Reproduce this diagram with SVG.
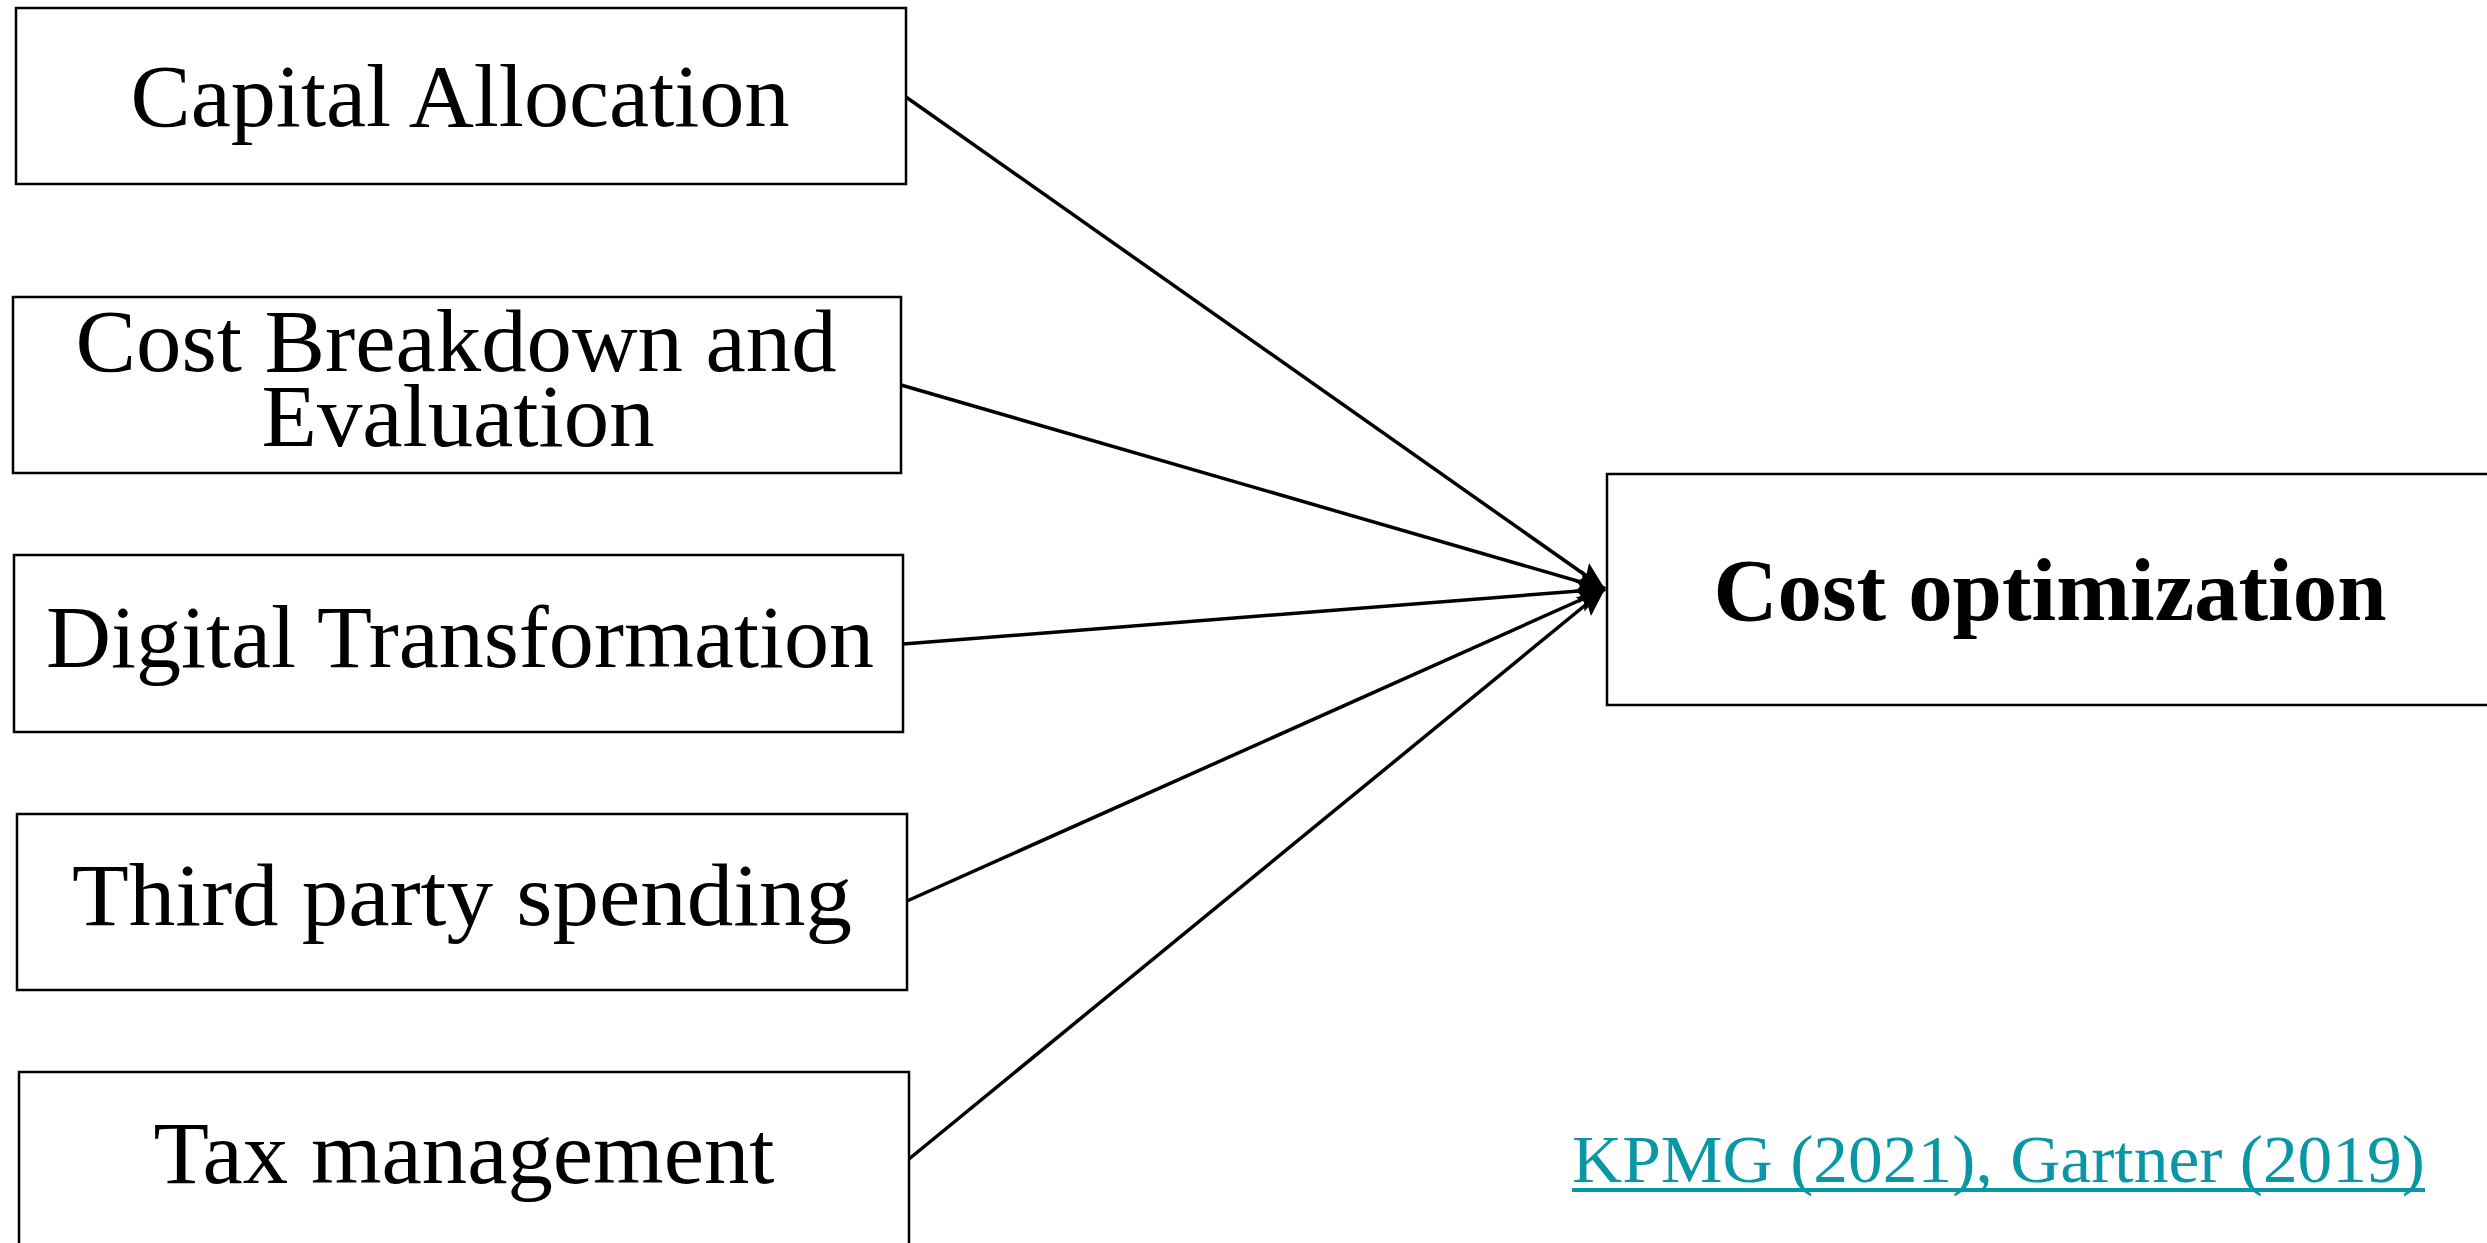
<svg xmlns="http://www.w3.org/2000/svg" width="2487" height="1243" viewBox="0 0 2487 1243">
<style>
.box{fill:#fff;stroke:#000;stroke-width:2.5}
.lbl{font-family:"Liberation Serif","Times New Roman",serif;font-size:88px;fill:#000;text-anchor:middle}
.bold{font-weight:bold}
.conn{stroke:#000;stroke-width:3.5;fill:none;marker-end:url(#arr)}
.cite{font-family:"Liberation Serif","Times New Roman",serif;font-size:68px;fill:#0a97a5}
</style>
<defs>
<marker id="arr" markerUnits="userSpaceOnUse" markerWidth="30" markerHeight="26" refX="28" refY="13" orient="auto">
<path d="M0,1 L28,13 L0,25 L5,13 z" fill="#000"/>
</marker>
</defs>
<rect width="2487" height="1243" fill="#fff"/>
<g id="connectors">
<line class="conn" x1="906" y1="97" x2="1605" y2="589"/>
<line class="conn" x1="901" y1="385" x2="1605" y2="589"/>
<line class="conn" x1="903" y1="644" x2="1605" y2="589"/>
<line class="conn" x1="907" y1="901" x2="1605" y2="589"/>
<line class="conn" x1="909" y1="1159" x2="1605" y2="589"/>
</g>
<g id="capital-allocation">
<rect class="box" x="16" y="8" width="890" height="176"/>
<text class="lbl" x="460" y="126" textLength="659" lengthAdjust="spacingAndGlyphs">Capital Allocation</text>
</g>
<g id="cost-breakdown">
<rect class="box" x="13" y="297" width="888" height="176"/>
<text class="lbl" x="456" y="371" font-size="84" textLength="761" lengthAdjust="spacingAndGlyphs">Cost Breakdown and</text>
<text class="lbl" x="458" y="446" font-size="84" textLength="393" lengthAdjust="spacingAndGlyphs">Evaluation</text>
</g>
<g id="digital-transformation">
<rect class="box" x="14" y="555" width="889" height="177"/>
<text class="lbl" x="460" y="667" textLength="828" lengthAdjust="spacingAndGlyphs">Digital Transformation</text>
</g>
<g id="third-party">
<rect class="box" x="17" y="814" width="890" height="176"/>
<text class="lbl" x="462" y="925" textLength="780" lengthAdjust="spacingAndGlyphs">Third party spending</text>
</g>
<g id="tax-management">
<rect class="box" x="19" y="1072" width="890" height="190"/>
<text class="lbl" x="464" y="1183" textLength="621" lengthAdjust="spacingAndGlyphs">Tax management</text>
</g>
<g id="cost-optimization">
<rect class="box" x="1607" y="474" width="900" height="231"/>
<text class="lbl bold" x="2050" y="620" textLength="673" lengthAdjust="spacingAndGlyphs">Cost optimization</text>
</g>
<g id="citation">
<text class="cite" x="1572" y="1182" textLength="853" lengthAdjust="spacingAndGlyphs">KPMG (2021), Gartner (2019)</text>
<line x1="1572" y1="1190" x2="2425" y2="1190" stroke="#0a97a5" stroke-width="4"/>
</g>
</svg>
